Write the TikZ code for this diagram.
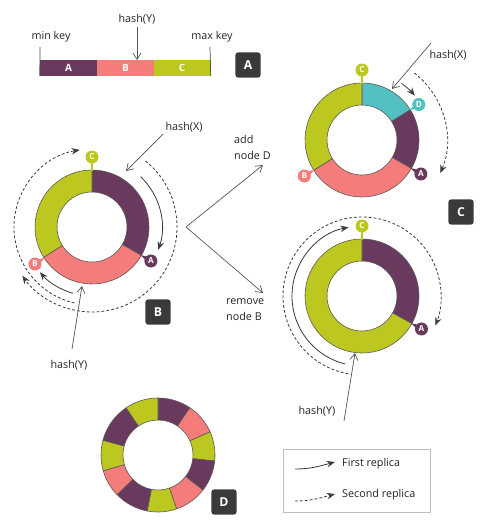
\documentclass[tikz,border=0pt]{standalone}
\usepackage{fontspec}
\setmainfont{Open Sans}
\usetikzlibrary{arrows.meta,calc}
\definecolor{purp}{HTML}{6A395E}
\definecolor{pinkc}{HTML}{F47D7B}
\definecolor{greenc}{HTML}{BCC81F}
\definecolor{tealc}{HTML}{52C0C0}
\definecolor{boxc}{HTML}{3A3A3A}
\definecolor{arcc}{HTML}{3C3C3C}
\definecolor{hashc}{HTML}{555555}
\definecolor{txtc}{HTML}{222222}
\newcommand\ringseg[4]{%
  \draw[ringline, fill=#4] ($(#1)+(#2:57)$) arc[start angle=#2, end angle=#3, radius=57]
    -- ($(#1)+(#3:35)$) arc[start angle=#3, end angle=#2, radius=35] -- cycle;}
\newcommand\ringmarker[6]{%
  \fill[#4] ($(#1)+(#2:56)$) -- ($(#1)+(#2:#3)+({#2+90}:3.5)$) -- ($(#1)+(#2:#3)+({#2-90}:3.5)$) -- cycle;
  \node[mk, fill=#4] (#6) at ($(#1)+(#2:#3)$) {#5};}
\newcommand\topmarker[4]{%
  \draw[#2, line width=1.2pt] ($(#1)+(90:56)$) -- ($(#1)+(90:70)$);
  \node[mk, fill=#2] (#4) at ($(#1)+(90:70)$) {#3};}
\begin{document}
\begin{tikzpicture}[x=0.03cm,y=0.03cm,
  lbl/.style={font=\fontsize{9.2}{13.6}\selectfont, text=txtc, inner sep=0pt},
  tagbox/.style={fill=boxc, rounded corners=2.5pt, minimum size=0.76cm, inner sep=0pt,
     text=white, font=\bfseries\fontsize{10.5}{12}\selectfont},
  barseg/.style={minimum width=1.71cm, minimum height=0.48cm, inner sep=0pt,
     text=white, font=\bfseries\fontsize{8.5}{10}\selectfont},
  mk/.style={circle, inner sep=0pt, minimum size=0.39cm, text=white,
     font=\bfseries\fontsize{7}{8}\selectfont},
  ringline/.style={draw=black!65, line width=0.5pt},
  hasharrow/.style={draw=hashc, line width=0.6pt, -{Straight Barb[length=5.5pt,width=7pt]}},
  rep1/.style={draw=arcc, line width=0.7pt, -{Stealth[length=7pt,width=5.5pt]}},
  rep2/.style={rep1, dash pattern=on 2.4pt off 1.8pt},
  tick/.style={draw=black!70, line width=0.6pt}]
\useasboundingbox (0,0) rectangle (483,-532);

% ---------------- A: key range bar
\node[barseg, fill=purp]  (barA) at (68.5,-68) {A};
\node[barseg, fill=pinkc] (barB) at (125.5,-68) {B};
\node[barseg, fill=greenc](barC) at (182,-68) {C};
\coordinate (tickL) at (40,-47);
\coordinate (tickR) at (210,-47);
\draw[tick] (tickL) -- (barA.south west);
\draw[tick] (tickR) -- (barC.south east);
\node[lbl] (minkey) at (51,-37) {min key};
\node[lbl] (maxkey) at (212,-37) {max key};
\node[lbl] (hyA) at (137,-19) {hash(Y)};
\coordinate (hyAs) at (137,-27);
\coordinate (hyAe) at (137,-60);
\draw[hasharrow] (hyAs) -- (hyAe);
\node[tagbox] (tagA) at (248,-65) {A};

% ---------------- B: ring with three nodes
\coordinate (cB) at (92,-227);
\ringseg{cB}{90}{-30}{purp}
\ringseg{cB}{-30}{-148}{pinkc}
\ringseg{cB}{-148}{-270}{greenc}
\topmarker{cB}{greenc}{C}{mBC}
\ringmarker{cB}{-30}{68}{purp}{A}{mBA}
\ringmarker{cB}{213}{68}{pinkc}{B}{mBB}
\draw[rep1] ($(cB)+(46:70)$) arc[start angle=46, end angle=-19, radius=70];
\draw[rep2] ($(cB)+(51:85)$) arc[start angle=51, end angle=-145, radius=85];
\draw[rep1] ($(cB)+(254:69)$) arc[start angle=254, end angle=221, radius=69];
\draw[rep2] ($(cB)+(257:78)$) arc[start angle=257, end angle=99, radius=78];
\node[lbl] (hxB) at (184,-127) {hash(X)};
\coordinate (hxBs) at (163,-134);
\coordinate (hxBe) at (126,-171);
\draw[hasharrow] (hxBs) -- (hxBe);
\node[lbl] (hyB) at (69,-365) {hash(Y)};
\coordinate (hyBs) at (72,-349);
\coordinate (hyBe) at (82,-286);
\draw[hasharrow] (hyBs) -- (hyBe);
\node[tagbox] (tagB) at (158,-312) {B};

% ---------------- transitions
\coordinate (fork) at (186,-227);
\coordinate (forkU) at (263,-165);
\coordinate (forkD) at (263,-293);
\draw[hasharrow] (fork) -- (forkU);
\draw[hasharrow] (fork) -- (forkD);
\node[lbl, anchor=west, align=left] (addD) at (234,-147) {add\\node D};
\node[lbl, anchor=west, align=left] (remB) at (226,-309.5) {remove\\node B};

% ---------------- C (top): node D added
\coordinate (cC) at (362,-140);
\ringseg{cC}{90}{32}{tealc}
\ringseg{cC}{32}{-30}{purp}
\ringseg{cC}{-30}{-148}{pinkc}
\ringseg{cC}{-148}{-270}{greenc}
\topmarker{cC}{greenc}{C}{mCC}
\ringmarker{cC}{32}{67}{tealc}{D}{mCD}
\ringmarker{cC}{-30}{68}{purp}{A}{mCA}
\ringmarker{cC}{212}{68}{pinkc}{B}{mCB}
\draw[rep1] ($(cC)+(55:69)$) arc[start angle=55, end angle=40, radius=69];
\draw[rep2] ($(cC)+(52:85)$) arc[start angle=52, end angle=-23, radius=85];
\node[lbl] (hxC) at (448,-55) {hash(X)};
\coordinate (hxCs) at (431,-43);
\coordinate (hxCe) at (392,-89);
\draw[hasharrow] (hxCs) -- (hxCe);
\node[tagbox] (tagC) at (461,-212) {C};

% ---------------- C (bottom): node B removed
\coordinate (cE) at (362,-296);
\ringseg{cE}{90}{-29}{purp}
\ringseg{cE}{-29}{-270}{greenc}
\topmarker{cE}{greenc}{C}{mEC}
\ringmarker{cE}{-29}{68}{purp}{A}{mEA}
\draw[rep1] ($(cE)+(256:70)$) arc[start angle=256, end angle=101, radius=70];
\draw[rep2] ($(cE)+(260:79)$) arc[start angle=260, end angle=-22, radius=79];
\node[lbl] (hyE) at (317,-411) {hash(Y)};
\coordinate (hyEs) at (344,-421);
\coordinate (hyEe) at (355,-353);
\draw[hasharrow] (hyEs) -- (hyEe);

% ---------------- D: many virtual nodes
\coordinate (cD) at (158,-455);
\ringseg{cD}{90}{56}{purp}
\ringseg{cD}{56}{24}{pinkc}
\ringseg{cD}{24}{-6}{greenc}
\ringseg{cD}{-6}{-38}{purp}
\ringseg{cD}{-38}{-71}{pinkc}
\ringseg{cD}{-71}{-101}{greenc}
\ringseg{cD}{-101}{-136}{purp}
\ringseg{cD}{-136}{-164}{pinkc}
\ringseg{cD}{-164}{-195}{greenc}
\ringseg{cD}{-195}{-236}{purp}
\ringseg{cD}{-236}{-270}{greenc}
\node[tagbox] (tagD) at (224,-502) {D};

% ---------------- legend
\node[draw=black!25, line width=0.5pt, minimum width=4.41cm, minimum height=1.89cm, inner sep=0pt] (legend) at (356.5,-480.5) {};
\coordinate (l1s) at (295,-469);
\coordinate (l1e) at (335,-462);
\coordinate (l2s) at (295,-501);
\coordinate (l2e) at (335,-494);
\draw[rep1] (l1s) to[out=0, in=195] (l1e);
\draw[rep2] (l2s) to[out=0, in=195] (l2e);
\node[lbl, anchor=west] (lg1) at (342,-464) {First replica};
\node[lbl, anchor=west] (lg2) at (342,-495) {Second replica};
\end{tikzpicture}
\end{document}
